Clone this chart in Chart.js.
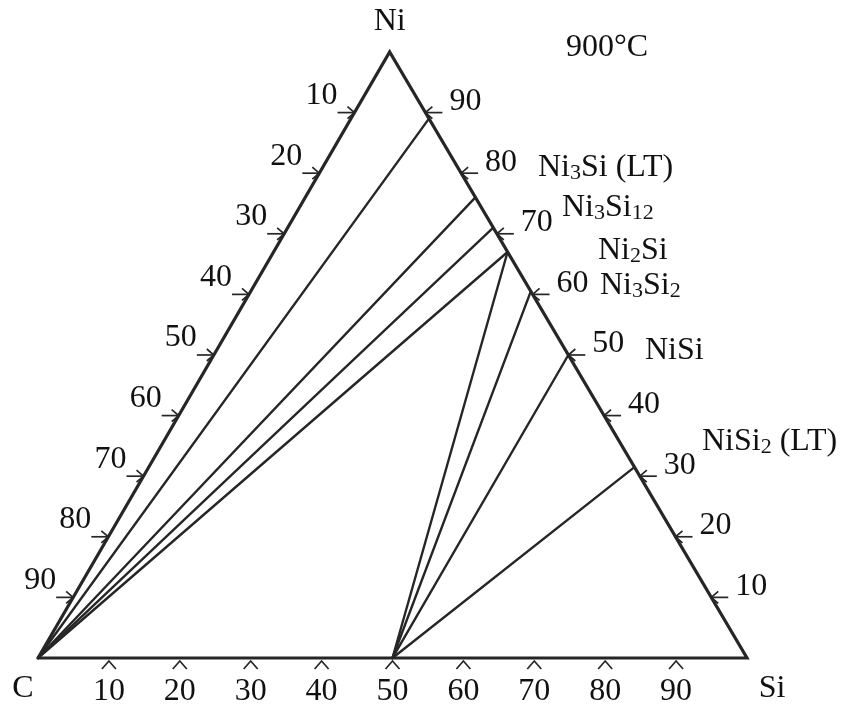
<!DOCTYPE html>
<html>
<head>
<meta charset="utf-8">
<script src="https://cdn.jsdelivr.net/npm/chart.js@4.4.1/dist/chart.umd.min.js"></script>
<style>
  html, body { margin: 0; padding: 0; background: #fff; }
  #wrap { width: 850px; height: 713px; }
</style>
</head>
<body>
<div id="wrap"><canvas id="tern" width="850" height="713"></canvas></div>
<script>
// ── Data (at.%) ─────────────────────────────────────────────
const tickVals   = [10, 20, 30, 40, 50, 60, 70, 80, 90];
const tieFromC   = [89, 76, 71, 67];        // Ni % on Ni–Si edge, joined to C
const sicSi      = 50;                      // SiC: Si % on C–Si edge
const tieFromSiC = [67, 60.5, 50, 31.5];    // Ni % on Ni–Si edge, joined to SiC
const cornerNames = ['Ni', 'C', 'Si'];
const tempLabel   = '900°C';
// phase names: [text, subscript?] pieces
const phaseNames = [
  [['Ni', 0], ['3', 1], ['Si (LT)', 0]],
  [['Ni', 0], ['3', 1], ['Si', 0], ['12', 1]],
  [['Ni', 0], ['2', 1], ['Si', 0]],
  [['Ni', 0], ['3', 1], ['Si', 0], ['2', 1]],
  [['NiSi', 0]],
  [['NiSi', 0], ['2', 1], [' (LT)', 0]]
];

// ternary -> cartesian (x = Si + Ni/2, y = Ni); apex of the drawing sits a bit left
function tp(ni, si) { return { x: si + ni * 0.496, y: ni }; }

const LINE = '#262626';
const FONT = '"Liberation Serif", "Times New Roman", serif';

const datasets = [];
datasets.push({ data: [tp(0, 0), tp(0, 100), tp(100, 0), tp(0, 0)], borderWidth: 3.2 });
tieFromC.forEach(n => datasets.push({ data: [tp(0, 0), tp(n, 100 - n)], borderWidth: 2.4 }));
tieFromSiC.forEach(n => datasets.push({ data: [tp(0, sicSi), tp(n, 100 - n)], borderWidth: 2.4 }));
datasets.forEach(d => {
  d.showLine = true; d.borderColor = LINE; d.pointRadius = 0; d.fill = false;
  d.tension = 0; d.borderCapStyle = 'round'; d.borderJoinStyle = 'miter';
});

// tick marks, tick labels and text
const ternaryDeco = {
  id: 'ternaryDeco',
  afterDatasetsDraw(chart) {
    const ctx = chart.ctx, sx = chart.scales.x, sy = chart.scales.y;
    const px = p => ({ x: sx.getPixelForValue(p.x), y: sy.getPixelForValue(p.y) });

    ctx.save();
    ctx.strokeStyle = LINE;
    ctx.lineWidth = 1.7;
    ctx.fillStyle = '#111';
    ctx.font = '32px ' + FONT;
    ctx.textAlign = 'center';
    ctx.textBaseline = 'middle';

    const seg = pts => {
      ctx.beginPath();
      ctx.moveTo(pts[0][0], pts[0][1]);
      for (let i = 1; i < pts.length; i++) ctx.lineTo(pts[i][0], pts[i][1]);
      ctx.stroke();
    };

    tickVals.forEach(v => {
      // left edge: C %
      let p = px(tp(100 - v, 0));
      seg([[p.x - 17, p.y], [p.x, p.y]]);
      seg([[p.x - 7, p.y - 6], [p.x, p.y], [p.x - 7, p.y + 6]]);
      ctx.fillText(String(v), p.x - 33, p.y - 17);

      // right edge: Ni %
      p = px(tp(v, 100 - v));
      seg([[p.x, p.y], [p.x + 17, p.y]]);
      seg([[p.x + 7, p.y - 6], [p.x, p.y], [p.x + 7, p.y + 6]]);
      ctx.fillText(String(v), p.x + 40, p.y - 11);

      // bottom edge: Si %
      p = px(tp(0, v));
      seg([[p.x - 7, p.y + 11], [p.x, p.y + 3], [p.x + 7, p.y + 11]]);
      ctx.fillText(String(v), p.x, p.y + 34);
    });

    // corner names & temperature
    ctx.textBaseline = 'alphabetic';
    ctx.textAlign = 'center';
    const ni = px(tp(100, 0)), c = px(tp(0, 0)), si = px(tp(0, 100));
    ctx.fillText(cornerNames[0], ni.x, ni.y - 22);
    ctx.fillText(cornerNames[1], c.x - 15, c.y + 39);
    ctx.fillText(cornerNames[2], si.x + 25, si.y + 39);
    ctx.textAlign = 'left';
    ctx.fillText(tempLabel, 566, 56);

    // phase labels with subscripts
    const spots = [[538, 176], [562, 216], [598, 259], [600, 294], [645, 359], [702, 450]];
    phaseNames.forEach((parts, i) => {
      let x = spots[i][0];
      const y = spots[i][1];
      parts.forEach(([t, sub]) => {
        ctx.font = (sub ? '22px ' : '32px ') + FONT;
        ctx.fillText(t, x, sub ? y + 3 : y);
        x += ctx.measureText(t).width;
      });
    });
    ctx.restore();
  }
};

new Chart(document.getElementById('tern'), {
  type: 'scatter',
  data: { datasets },
  options: {
    responsive: false,
    animation: false,
    layout: { padding: 0 },
    plugins: { legend: { display: false }, tooltip: { enabled: false } },
    scales: {
      x: { type: 'linear', display: false, min: -5.36, max: 114.53 },
      y: { type: 'linear', display: false, min: -9.08, max: 108.58 }
    }
  },
  plugins: [ternaryDeco]
});
</script>
</body>
</html>
